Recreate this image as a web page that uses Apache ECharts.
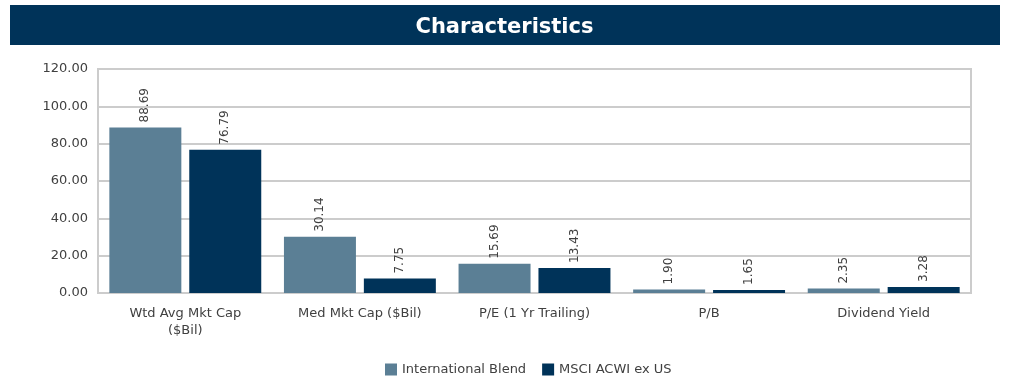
<!DOCTYPE html>
<html><head><meta charset="utf-8">
<script src="https://cdn.jsdelivr.net/npm/echarts@6/dist/echarts.min.js"></script>
<style>html,body{margin:0;padding:0;background:#fff}#c{width:1009px;height:378px}</style>
</head><body><div id="c"></div>
<script>
const categories = ["Wtd Avg Mkt Cap\n($Bil)", "Med Mkt Cap ($Bil)", "P/E (1 Yr Trailing)", "P/B", "Dividend Yield"];
const seriesNames = ["International Blend", "MSCI ACWI ex US"];
const intlBlend = [88.69, 30.14, 15.69, 1.90, 2.35];
const msciAcwi = [76.79, 7.75, 13.43, 1.65, 3.28];
const titleText = "Characteristics";

const FONT = "'DejaVu Sans', sans-serif";
const chart = echarts.init(document.getElementById('c'), null, {renderer: 'canvas'});
const lbl = {
  show: true, position: 'top', rotate: 90, align: 'left', verticalAlign: 'middle',
  distance: 5, color: '#404040', fontSize: 12, fontFamily: FONT,
  formatter: p => p.value.toFixed(2)
};
chart.setOption({
  animation: false,
  backgroundColor: '#fff',
  graphic: [{
    type: 'rect', shape: {x: 10, y: 5, width: 990, height: 40},
    style: {fill: '#003359'}, z: 0
  }],
  title: {
    text: titleText, left: 'center', top: 12,
    textStyle: {color: '#fff', fontSize: 21, fontWeight: 'bold', fontFamily: FONT}
  },
  legend: {
    top: 358, left: 380, itemWidth: 12, itemHeight: 12, itemGap: 16,
    icon: 'rect',
    textStyle: {color: '#404040', fontSize: 13, fontFamily: FONT},
    data: seriesNames
  },
  grid: {left: 98, right: 38, top: 69, bottom: 85, show: true, borderColor: '#cccccc', borderWidth: 2},
  xAxis: {
    type: 'category', data: categories,
    axisLine: {lineStyle: {color: '#cccccc', width: 2}},
    axisTick: {show: false},
    axisLabel: {color: '#404040', fontSize: 13, fontFamily: FONT, margin: 12, lineHeight: 17, interval: 0}
  },
  yAxis: {
    type: 'value', min: 0, max: 120, interval: 20,
    axisLine: {show: true, lineStyle: {color: '#cccccc', width: 2}},
    splitLine: {lineStyle: {color: '#cccccc', width: 2}},
    axisLabel: {color: '#404040', fontSize: 13, fontFamily: FONT, margin: 10, formatter: v => v.toFixed(2)}
  },
  series: [
    {name: seriesNames[0], type: 'bar', data: intlBlend, itemStyle: {color: '#5b7f95'},
     barGap: '11%', barCategoryGap: '13%', label: lbl},
    {name: seriesNames[1], type: 'bar', data: msciAcwi, itemStyle: {color: '#003359'},
     barGap: '11%', barCategoryGap: '13%', label: lbl}
  ]
});
</script></body></html>
